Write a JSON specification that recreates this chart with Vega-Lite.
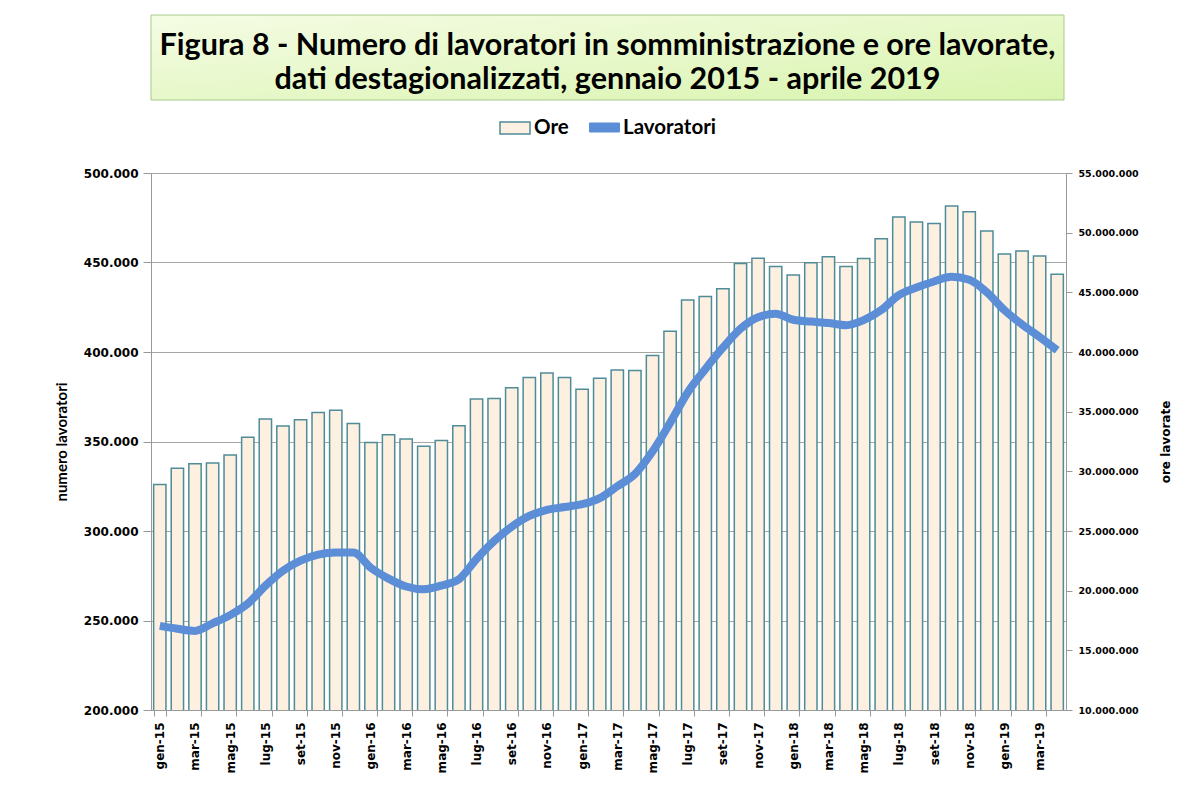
{
  "$schema": "https://vega.github.io/schema/vega-lite/v6.json",
  "padding": {"left": 54, "top": 14, "right": 5, "bottom": 5},
  "background": "white",
  "spacing": 16,
  "resolve": {"legend": {"fill": "independent", "stroke": "independent"}},
  "config": {
    "locale": {"number": {"decimal": ",", "thousands": ".", "grouping": [3], "currency": ["", " €"]}},
    "view": {"stroke": null},
    "font": "DejaVu Sans"
  },
  "vconcat": [
    {
      "width": 913,
      "height": 85,
      "data": {"values": [{"titolo": "Figura 8 - Numero di lavoratori in somministrazione e ore lavorate,\ndati destagionalizzati, gennaio 2015 - aprile 2019"}]},
      "layer": [
        {
          "mark": {
            "type": "rect",
            "fill": {"gradient": "linear", "x1": 0, "y1": 0, "x2": 1, "y2": 1, "stops": [{"offset": 0, "color": "#F5FCE4"}, {"offset": 1, "color": "#D9F4AF"}]},
            "stroke": "#A8C88C",
            "strokeWidth": 1
          },
          "encoding": {}
        },
        {
          "mark": {"type": "text", "font": "Lato", "fontSize": 30.5, "fontWeight": "bold", "color": "black", "lineBreak": "\n", "lineHeight": 34, "align": "center", "baseline": "middle", "dy": -12},
          "encoding": {"text": {"field": "titolo"}}
        }
      ]
    },
    {
      "width": 915,
      "height": 537,
      "data": {"values": [
        {"mese": "gen-15", "ore": 28900000, "lavoratori": 247000},
        {"mese": "feb-15", "ore": 30250000, "lavoratori": 245400},
        {"mese": "mar-15", "ore": 30640000, "lavoratori": 244200},
        {"mese": "apr-15", "ore": 30700000, "lavoratori": 248400},
        {"mese": "mag-15", "ore": 31360000, "lavoratori": 253000},
        {"mese": "giu-15", "ore": 32860000, "lavoratori": 259400},
        {"mese": "lug-15", "ore": 34390000, "lavoratori": 269400},
        {"mese": "ago-15", "ore": 33790000, "lavoratori": 277800},
        {"mese": "set-15", "ore": 34330000, "lavoratori": 283400},
        {"mese": "ott-15", "ore": 34930000, "lavoratori": 286800},
        {"mese": "nov-15", "ore": 35110000, "lavoratori": 288000},
        {"mese": "dic-15", "ore": 34000000, "lavoratori": 288000},
        {"mese": "gen-16", "ore": 32410000, "lavoratori": 279400},
        {"mese": "feb-16", "ore": 33070000, "lavoratori": 273400},
        {"mese": "mar-16", "ore": 32710000, "lavoratori": 269000},
        {"mese": "apr-16", "ore": 32110000, "lavoratori": 267400},
        {"mese": "mag-16", "ore": 32590000, "lavoratori": 269500},
        {"mese": "giu-16", "ore": 33820000, "lavoratori": 273000},
        {"mese": "lug-16", "ore": 36070000, "lavoratori": 284400},
        {"mese": "ago-16", "ore": 36100000, "lavoratori": 294400},
        {"mese": "set-16", "ore": 37000000, "lavoratori": 302400},
        {"mese": "ott-16", "ore": 37870000, "lavoratori": 308400},
        {"mese": "nov-16", "ore": 38230000, "lavoratori": 311800},
        {"mese": "dic-16", "ore": 37870000, "lavoratori": 313400},
        {"mese": "gen-17", "ore": 36880000, "lavoratori": 315000},
        {"mese": "feb-17", "ore": 37810000, "lavoratori": 318400},
        {"mese": "mar-17", "ore": 38500000, "lavoratori": 325000},
        {"mese": "apr-17", "ore": 38440000, "lavoratori": 331800},
        {"mese": "mag-17", "ore": 39700000, "lavoratori": 344400},
        {"mese": "giu-17", "ore": 41740000, "lavoratori": 360400},
        {"mese": "lug-17", "ore": 44350000, "lavoratori": 377400},
        {"mese": "ago-17", "ore": 44650000, "lavoratori": 390400},
        {"mese": "set-17", "ore": 45310000, "lavoratori": 402400},
        {"mese": "ott-17", "ore": 47410000, "lavoratori": 413000},
        {"mese": "nov-17", "ore": 47860000, "lavoratori": 419400},
        {"mese": "dic-17", "ore": 47170000, "lavoratori": 421400},
        {"mese": "gen-18", "ore": 46450000, "lavoratori": 418000},
        {"mese": "feb-18", "ore": 47470000, "lavoratori": 417000},
        {"mese": "mar-18", "ore": 47980000, "lavoratori": 416200},
        {"mese": "apr-18", "ore": 47170000, "lavoratori": 415000},
        {"mese": "mag-18", "ore": 47830000, "lavoratori": 417800},
        {"mese": "giu-18", "ore": 49480000, "lavoratori": 423400},
        {"mese": "lug-18", "ore": 51310000, "lavoratori": 431800},
        {"mese": "ago-18", "ore": 50890000, "lavoratori": 436000},
        {"mese": "set-18", "ore": 50770000, "lavoratori": 439400},
        {"mese": "ott-18", "ore": 52240000, "lavoratori": 442000},
        {"mese": "nov-18", "ore": 51760000, "lavoratori": 440400},
        {"mese": "dic-18", "ore": 50140000, "lavoratori": 433400},
        {"mese": "gen-19", "ore": 48220000, "lavoratori": 423400},
        {"mese": "feb-19", "ore": 48460000, "lavoratori": 415400},
        {"mese": "mar-19", "ore": 48040000, "lavoratori": 408400},
        {"mese": "apr-19", "ore": 46510000, "lavoratori": 401000}
      ]},
      "encoding": {
        "x": {
          "field": "mese", "type": "ordinal", "sort": null,
          "scale": {"paddingInner": 0.3, "paddingOuter": 0.15},
          "axis": {
            "title": null,
            "values": ["gen-15","mar-15","mag-15","lug-15","set-15","nov-15","gen-16","mar-16","mag-16","lug-16","set-16","nov-16","gen-17","mar-17","mag-17","lug-17","set-17","nov-17","gen-18","mar-18","mag-18","lug-18","set-18","nov-18","gen-19","mar-19"],
            "labelAngle": 270, "labelFont": "DejaVu Sans", "labelFontSize": 12, "labelFontWeight": "bold", "labelColor": "black",
            "labelPadding": 6, "tickSize": 6, "tickColor": "#999999", "domainColor": "#999999", "tickBand": "extent"
          }
        }
      },
      "layer": [
        {
          "mark": {"type": "bar", "stroke": "#4E8C99", "strokeWidth": 1.5, "opacity": 1, "clip": true},
          "encoding": {
            "y": {
              "field": "ore", "type": "quantitative",
              "scale": {"domain": [10000000, 55000000], "nice": false, "zero": false},
              "axis": {
                "orient": "right", "title": "ore lavorate", "titleAngle": 270, "titleBaseline": "top", "titleFont": "DejaVu Sans", "titleFontSize": 12, "titleFontWeight": "bold", "titlePadding": 22, "titleColor": "black",
                "values": [10000000,15000000,20000000,25000000,30000000,35000000,40000000,45000000,50000000,55000000],
                "format": ",.0f", "labelFont": "DejaVu Sans", "labelFontSize": 9.5, "labelFontWeight": "bold", "labelColor": "black", "labelPadding": 6,
                "tickSize": 6, "tickColor": "#999999", "domainColor": "#999999", "grid": false
              }
            },
            "fill": {
              "datum": "Ore",
              "scale": {"domain": ["Ore"], "range": ["#FDF0E1"]},
              "legend": {
                "orient": "none", "legendX": 353, "legendY": -56, "title": null,
                "labelFont": "Lato", "labelFontSize": 20.5, "labelFontWeight": "bold", "labelColor": "black",
                "symbolSize": 400, "labelOffset": 8, "symbolType": "M-1.5,-0.6H1.5V0.6H-1.5Z",
                "symbolStrokeColor": "#4E8C99", "symbolStrokeWidth": 1.5, "symbolOpacity": 1
              }
            }
          }
        },
        {
          "mark": {"type": "line", "strokeWidth": 8, "interpolate": "monotone"},
          "encoding": {
            "y": {
              "field": "lavoratori", "type": "quantitative",
              "scale": {"domain": [200000, 500000], "nice": false, "zero": false},
              "axis": {
                "orient": "left", "title": "numero lavoratori", "titleFont": "Lato", "titleFontSize": 15, "titleFontWeight": "bold", "titlePadding": 14, "titleColor": "black",
                "values": [200000,250000,300000,350000,400000,450000,500000],
                "format": ",.0f", "labelFont": "DejaVu Sans", "labelFontSize": 12, "labelFontWeight": "bold", "labelColor": "black", "labelPadding": 5,
                "tickSize": 8, "tickColor": "#999999", "domainColor": "#999999",
                "grid": true, "gridColor": "#A6A6A6", "gridWidth": 1
              }
            },
            "stroke": {
              "datum": "Lavoratori",
              "scale": {"domain": ["Lavoratori"], "range": ["#5B8ED6"]},
              "legend": {
                "orient": "none", "legendX": 443, "legendY": -56, "title": null,
                "labelFont": "Lato", "labelFontSize": 20.5, "labelFontWeight": "bold", "labelColor": "black",
                "symbolSize": 400, "labelOffset": 8, "symbolType": "M-1.5,-0.45H1.5V0.45H-1.5Z",
                "symbolFillColor": "#5B8ED6", "symbolStrokeWidth": 1, "symbolOpacity": 1
              }
            }
          }
        }
      ],
      "resolve": {"scale": {"y": "independent"}}
    }
  ]
}
